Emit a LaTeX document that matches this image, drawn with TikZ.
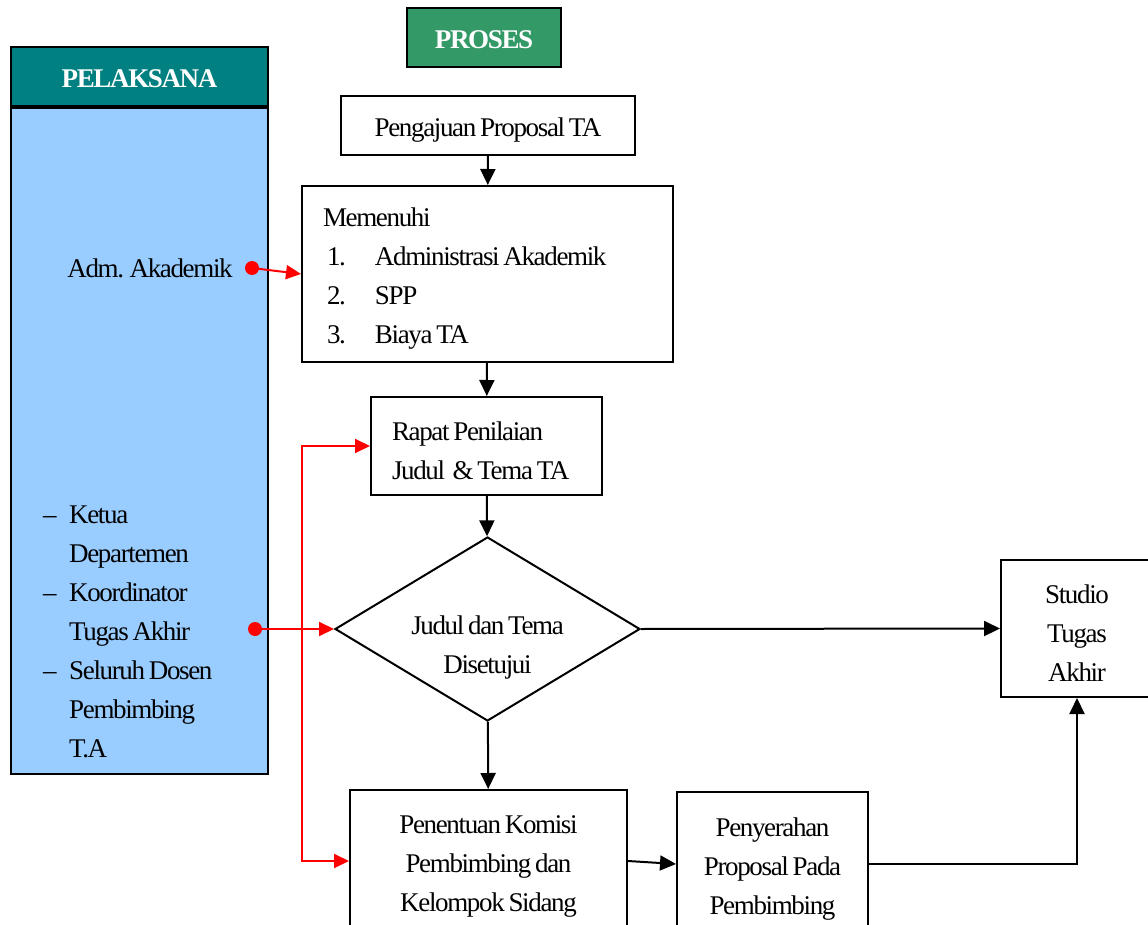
\documentclass[tikz,border=0pt]{standalone}
\usepackage{fontspec}
\setmainfont{Liberation Serif}[LetterSpace=-5, WordSpace=0.7]
\usetikzlibrary{arrows.meta,positioning,shapes.geometric}

\begin{document}
\begin{tikzpicture}[
  x=1pt, y=-1pt,
  font=\fontsize{27}{39}\selectfont,
  box/.style={rectangle, draw=black, line width=2pt, inner sep=0pt, align=flush center, text height=28pt},
  head/.style={box, minimum height=59pt, text height=22pt, text=white, font=\fontsize{27}{39}\selectfont\bfseries},
  decision/.style={diamond, draw=black, line width=2pt, inner sep=0pt, aspect=1.66, align=flush center, text width=180pt, text height=30pt, text depth=20pt},
  dot/.style={circle, fill=red, inner sep=0pt, minimum size=14pt},
  arrow/.style={-{Triangle[length=16pt,width=15pt]}, line width=2pt},
  redarrow/.style={-{Triangle[length=15pt,width=14pt]}, red, line width=2pt}
]
\useasboundingbox (0,0) rectangle (1148,925);
\clip (0,0) rectangle (1148,925);

% kolom pelaksana
\node[head, fill={rgb,255:red,0;green,128;blue,128}, minimum width=257pt] (pelaksana) at (139.5,76.5) {PELAKSANA};
\node[box, fill={rgb,255:red,153;green,204;blue,255}, minimum width=257pt, minimum height=666pt, below=0pt of pelaksana] (panel) {};
\node (adm) at (150,268) {Adm. Akademik};
\node[anchor=west, inner sep=0pt, align=left] (dosen) at (43,632)
  {\makebox[26pt][l]{--}Ketua\\ \hspace*{26pt}Departemen\\
   \makebox[26pt][l]{--}Koordinator\\ \hspace*{26pt}Tugas Akhir\\
   \makebox[26pt][l]{--}Seluruh Dosen\\ \hspace*{26pt}Pembimbing\\
   \hspace*{26pt}T.A};

% kolom proses
\node[head, fill={rgb,255:red,51;green,153;blue,102}, minimum width=154pt] (proses) at (484,37.5) {PROSES};
\node[box, minimum width=294pt, minimum height=59pt] (pengajuan) at (488,125.5) {Pengajuan Proposal TA};
\node[box, minimum width=371pt, minimum height=176pt, text width=329pt, align=flush left] (memenuhi) at (487.5,274)
  {Memenuhi\\
   \hspace*{4pt}\makebox[48pt][l]{1.}Administrasi Akademik\\
   \hspace*{4pt}\makebox[48pt][l]{2.}SPP\\
   \hspace*{4pt}\makebox[48pt][l]{3.}Biaya TA};
\node[box, minimum width=231pt, minimum height=98pt, text width=189pt, align=flush left] (rapat) at (486.5,446) {Rapat Penilaian\\Judul\ \ \& Tema TA};
\node[decision, minimum width=305pt, minimum height=184pt] (setuju) at (487.5,629) {Judul dan Tema\\Disetujui};
\node[box, minimum width=152pt, minimum height=137pt, text width=120pt] (studio) at (1077,628.5) {Studio\\Tugas\\Akhir};
\node[box, minimum width=277pt, minimum height=142pt, text width=240pt] (penentuan) at (488.5,861) {Penentuan Komisi\\Pembimbing dan\\Kelompok Sidang};
\node[box, minimum width=191pt, minimum height=144pt, text width=170pt] (penyerahan) at (772.5,864) {Penyerahan\\Proposal Pada\\Pembimbing};

\node[dot] (dotA) at (252,268) {};
\node[dot] (dotB) at (255,629) {};
\coordinate (split) at (302,650);

\draw[arrow] (pengajuan) -- (memenuhi);
\draw[arrow] (memenuhi) -- (rapat);
\draw[arrow] (rapat) -- (setuju);
\draw[arrow] (setuju) -- (penentuan);
\draw[arrow] (setuju.east) -- (studio.west);
\draw[arrow] (penentuan.east) -- (penyerahan.west);
\draw[arrow] (penyerahan.east) -| (studio.south);

\draw[redarrow] (dotA.center) -- (memenuhi.west);
\draw[redarrow] (dotB.center) -- (setuju.west);
\draw[redarrow, {Triangle[length=15pt,width=14pt]}-{Triangle[length=15pt,width=14pt]}] (rapat.west) -| (split) |- (penentuan.west);
\end{tikzpicture}
\end{document}
